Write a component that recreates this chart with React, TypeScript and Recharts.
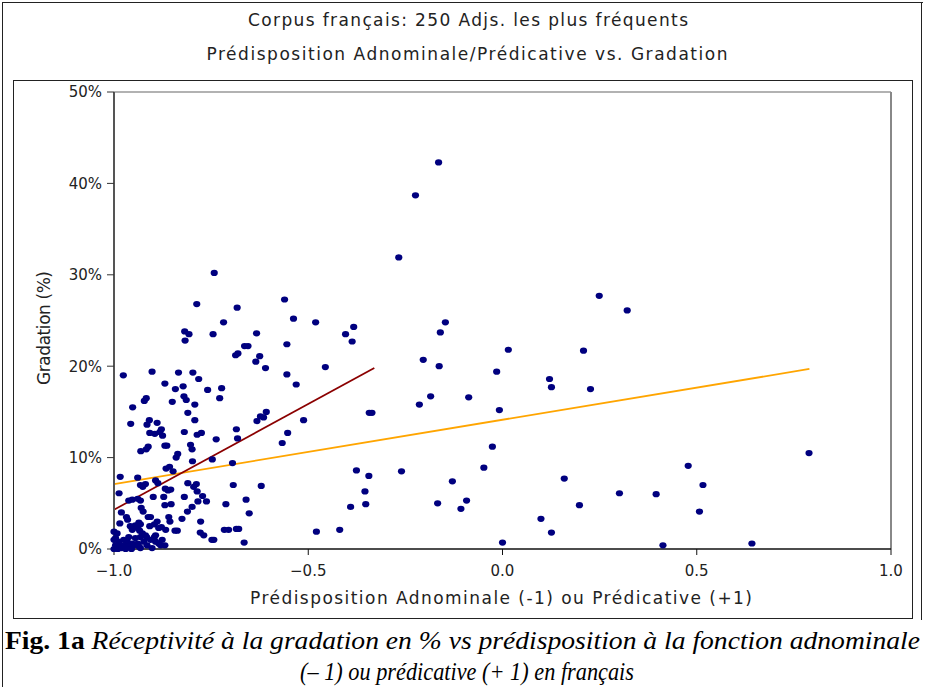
import React from "react"
import { ScatterChart, Scatter, XAxis, YAxis, ReferenceLine } from "recharts"

// x = prédisposition (-1 adnominale … +1 prédicative), y = gradation en %
const coreAdnominal: [number, number][] = [
  [-0.976, 19.0], [-0.902, 19.4], [-0.869, 18.1], [-0.922, 16.2], [-0.917, 16.5], [-0.952, 15.5],
  [-0.957, 13.7], [-0.915, 13.6], [-0.909, 14.1], [-0.889, 13.8], [-0.908, 12.7], [-0.895, 12.6],
  [-0.882, 12.8], [-0.878, 13.1], [-0.875, 12.4], [-0.912, 11.2], [-0.917, 10.9], [-0.931, 10.7],
  [-0.869, 11.3], [-0.864, 11.3], [-0.866, 8.8], [-0.857, 9.0], [-0.984, 7.9], [-0.939, 7.8],
  [-0.893, 7.5], [-0.887, 7.2], [-0.932, 7.0], [-0.926, 6.8], [-0.919, 7.1], [-0.868, 6.6],
  [-0.861, 6.4], [-0.987, 6.1], [-0.962, 5.3], [-0.953, 5.4], [-0.939, 5.5], [-0.932, 5.3],
  [-0.899, 5.7], [-0.872, 5.7], [-0.869, 4.8], [-0.981, 4.0], [-0.968, 3.5], [-0.965, 3.2],
  [-0.930, 4.5], [-0.925, 4.1], [-0.912, 3.5], [-0.906, 3.5], [-0.859, 3.5], [-0.856, 3.0],
  [-0.985, 2.8], [-0.958, 2.5], [-0.945, 2.6], [-0.939, 2.3], [-0.932, 2.7], [-0.908, 2.5],
  [-0.896, 2.7], [-0.889, 3.0], [-0.867, 2.1], [-1.0, 1.9], [-0.992, 1.7], [-0.949, 0.4],
  [-0.939, 0.6], [-0.932, 0.1], [-0.923, 0.8], [-0.916, 1.3], [-0.906, 1.0], [-0.896, 1.3],
  [-0.893, 0.8], [-0.902, 0.1], [-0.880, 0.4], [-0.869, 0.4], [-0.953, 2.1], [-0.934, 2.0],
  [-0.927, 1.7], [-0.885, 2.3], [-0.878, 2.4], [-0.936, 2.9], [-0.996, 1.2], [-0.988, 0.8],
  [-0.975, 1.0], [-0.962, 1.3], [-0.966, 0.8], [-0.953, 0.6], [-0.945, 1.2], [-0.932, 1.3],
  [-0.919, 1.5], [-0.893, 1.5], [-0.885, 0.6], [-0.876, 1.0], [-0.915, 0.4], [-0.936, 0.3],
  [-0.988, 0.3], [-0.996, 0.4], [-0.975, 0.4], [-0.962, 0.3], [-1.0, 0.0], [-0.99, 0.0],
  [-0.98, 0.1], [-1.0, 1.0], [-0.97, 0.0], [-0.955, 0.0],
]

const spreadAdnominal: [number, number][] = [
  [-0.742, 30.2], [-0.787, 26.8], [-0.683, 26.4], [-0.718, 24.8], [-0.818, 23.8], [-0.807, 23.5],
  [-0.745, 23.5], [-0.817, 22.8], [-0.633, 23.6], [-0.561, 27.3], [-0.538, 25.2], [-0.481, 24.8],
  [-0.404, 23.5], [-0.664, 22.2], [-0.655, 22.2], [-0.687, 21.2], [-0.681, 21.4], [-0.625, 21.1],
  [-0.635, 20.5], [-0.610, 19.8], [-0.555, 22.4], [-0.555, 19.1], [-0.531, 18.0], [-0.456, 19.9],
  [-0.834, 19.3], [-0.797, 19.3], [-0.782, 18.6], [-0.842, 17.5], [-0.822, 17.8], [-0.723, 17.6],
  [-0.759, 17.4], [-0.728, 16.5], [-0.850, 16.1], [-0.820, 16.7], [-0.814, 16.3], [-0.792, 15.8],
  [-0.810, 14.9], [-0.792, 14.1], [-0.819, 12.8], [-0.786, 12.5], [-0.775, 12.7], [-0.737, 12.0],
  [-0.803, 11.4], [-0.799, 10.9], [-0.840, 10.0], [-0.836, 10.4], [-0.848, 8.5], [-0.798, 9.6],
  [-0.747, 9.8], [-0.695, 9.4], [-0.854, 6.5], [-0.810, 7.2], [-0.788, 7.1], [-0.795, 6.8],
  [-0.786, 6.3], [-0.693, 7.0], [-0.621, 6.9], [-0.853, 4.9], [-0.819, 5.7], [-0.799, 4.6],
  [-0.784, 5.2], [-0.772, 5.8], [-0.762, 5.2], [-0.712, 4.9], [-0.660, 5.4], [-0.652, 3.9],
  [-0.825, 3.3], [-0.777, 3.0], [-0.811, 4.1], [-0.843, 2.0], [-0.837, 2.0], [-0.778, 1.8],
  [-0.769, 1.5], [-0.748, 1.0], [-0.743, 1.0], [-0.716, 2.1], [-0.705, 2.1], [-0.685, 2.2],
  [-0.679, 2.2], [-0.665, 0.7], [-0.479, 1.9], [-0.419, 2.1], [-0.391, 4.6], [-0.567, 11.6],
  [-0.553, 12.7], [-0.512, 14.1], [-0.608, 15.0], [-0.615, 14.4], [-0.623, 14.5], [-0.632, 14.0],
  [-0.685, 13.1], [-0.682, 12.1], [-0.376, 8.6], [-0.344, 8.0], [-0.354, 6.3], [-0.352, 4.9],
  [-0.343, 14.9], [-0.336, 14.9], [-0.383, 24.3], [-0.387, 22.7],
]

const predicativeSide: [number, number][] = [
  [-0.1645, 42.3], [-0.224, 38.7], [-0.267, 31.9], [0.249, 27.7], [0.321, 26.1], [-0.147, 24.8],
  [-0.160, 23.7], [0.015, 21.8], [0.2085, 21.7], [-0.204, 20.7], [-0.163, 20.0], [-0.015, 19.4],
  [0.121, 18.6], [0.126, 17.7], [0.2265, 17.5], [-0.185, 16.7], [-0.214, 15.8], [-0.087, 16.6],
  [-0.008, 15.2], [-0.026, 11.2], [-0.260, 8.5], [-0.048, 8.9], [-0.129, 7.4], [0.159, 7.7],
  [0.301, 6.1], [0.3955, 6.0], [-0.167, 5.0], [-0.0925, 5.3], [-0.107, 4.4], [0.198, 4.8],
  [0.099, 3.3], [0.126, 1.8], [0.0, 0.7], [0.789, 10.5], [0.478, 9.1], [0.516, 7.0],
  [0.507, 4.1], [0.413, 0.4], [0.642, 0.6],
]

const allFit = [{ x: -1, y: 7.1 }, { x: 0.79, y: 19.7 }]
const adnominalFit = [{ x: -1, y: 4.3 }, { x: -0.33, y: 19.8 }]

const xTicks = [-1, -0.5, 0, 0.5, 1]
const yTicks = [0, 10, 20, 30, 40, 50]

const points = [...coreAdnominal, ...spreadAdnominal, ...predicativeSide].map(([x, y]) => ({ x, y }))

const sans = "DejaVu Sans, sans-serif"
const serif = "Liberation Serif, DejaVu Serif, serif"

const fmtX = (v: number) => (v < 0 ? "\u2212" : "") + Math.abs(v).toFixed(1)

const Dot = (props: any) => {
  const { cx, cy } = props
  if (cx == null || cy == null) return null
  return <ellipse cx={cx} cy={cy} rx={3.6} ry={3.1} fill="#00007f" />
}

export default function App() {
  return (
    <div style={{ position: "relative", width: 925, height: 687, background: "#fff", overflow: "hidden" }}>
      <style>{"body{margin:0}"}</style>
      <ScatterChart width={925} height={687} margin={{ top: 92, right: 34, bottom: 108, left: 54 }}>
        <XAxis
          type="number"
          dataKey="x"
          domain={[-1, 1]}
          ticks={xTicks}
          tickFormatter={fmtX}
          height={30}
          tickSize={6}
          tickMargin={10}
          axisLine={{ stroke: "#111", strokeWidth: 1.5 }}
          tickLine={{ stroke: "#111" }}
          tick={{ fill: "#222", fontSize: 15, fontFamily: sans }}
        />
        <YAxis
          type="number"
          dataKey="y"
          domain={[0, 50]}
          ticks={yTicks}
          tickFormatter={(v: number) => `${v}%`}
          width={60}
          tickSize={7}
          tickMargin={5}
          axisLine={{ stroke: "#555", strokeWidth: 2 }}
          tickLine={{ stroke: "#333" }}
          tick={{ fill: "#222", fontSize: 15, fontFamily: sans }}
        />
        <ReferenceLine y={50} stroke="#999" strokeWidth={1.5} />
        <ReferenceLine x={1} stroke="#888" strokeWidth={2} />
        <Scatter data={points} shape={Dot} isAnimationActive={false} />
        <ReferenceLine segment={allFit} stroke="#ffa500" strokeWidth={1.8} />
        <ReferenceLine segment={adnominalFit} stroke="#8b0000" strokeWidth={1.8} />
      </ScatterChart>
      <svg width={925} height={687} style={{ position: "absolute", left: 0, top: 0, pointerEvents: "none" }}>
        <line x1={2} y1={2.5} x2={923} y2={2.5} stroke="#222" />
        <line x1={2.5} y1={2} x2={2.5} y2={687} stroke="#222" />
        <line x1={921.5} y1={2} x2={921.5} y2={620} stroke="#222" />
        <rect x={13.5} y={80.5} width={899} height={538} fill="none" stroke="#222" />
        <text x={468} y={26} textAnchor="middle" fontFamily={sans} fontSize={17} fill="#222" textLength={440}>
          Corpus français: 250 Adjs. les plus fréquents
        </text>
        <text x={467} y={60} textAnchor="middle" fontFamily={sans} fontSize={17} fill="#222" textLength={521}>
          Prédisposition Adnominale/Prédicative vs. Gradation
        </text>
        <text
          x={50}
          y={328}
          textAnchor="middle"
          fontFamily={sans}
          fontSize={17}
          fill="#222"
          transform="rotate(-90 50 328)"
          textLength={114}
        >
          Gradation (%)
        </text>
        <text x={501} y={604} textAnchor="middle" fontFamily={sans} fontSize={17} fill="#222" textLength={502}>
          Prédisposition Adnominale (-1) ou Prédicative (+1)
        </text>
        <text
          x={5}
          y={649}
          fontFamily={serif}
          fontSize={25}
          fill="#000"
          textLength={915}
          lengthAdjust="spacingAndGlyphs"
        >
          <tspan fontWeight="bold" fontStyle="normal">Fig. 1a </tspan>
          <tspan fontStyle="italic">Réceptivité à la gradation en % vs prédisposition à la fonction adnominale</tspan>
        </text>
        <text
          x={467}
          y={680}
          textAnchor="middle"
          fontFamily={serif}
          fontSize={25}
          fontStyle="italic"
          fill="#000"
          textLength={334}
          lengthAdjust="spacingAndGlyphs"
        >
          (– 1) ou prédicative (+ 1) en français
        </text>
      </svg>
    </div>
  )
}
